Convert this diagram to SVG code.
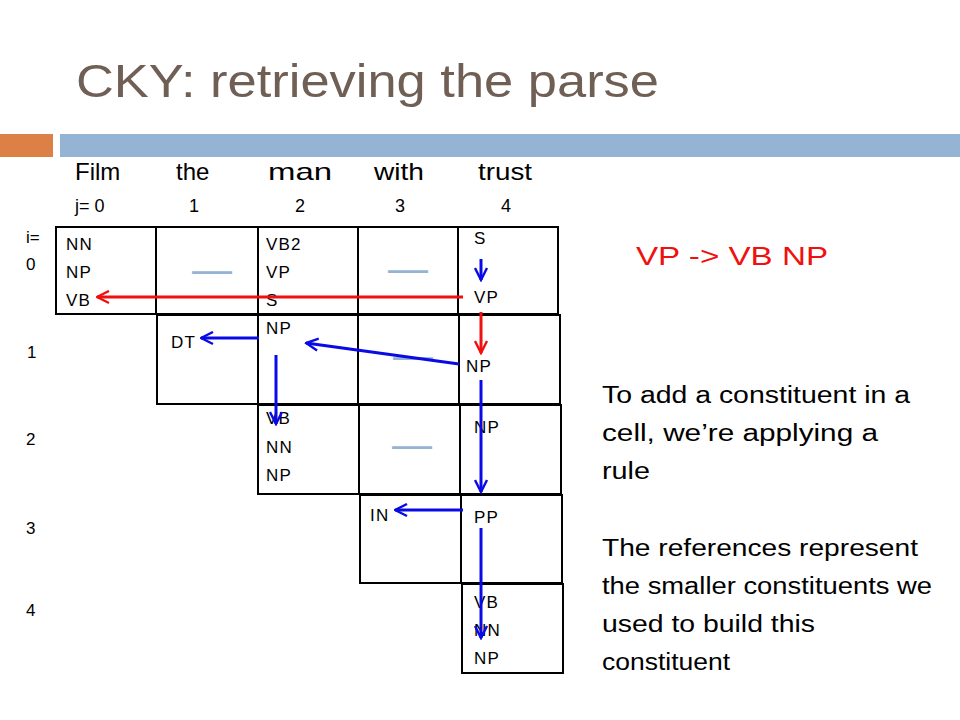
<svg xmlns="http://www.w3.org/2000/svg" width="960" height="720" viewBox="0 0 960 720">
<defs>
<style>
.cell{fill:#fff;stroke:#000;stroke-width:2}
.lbl{font-family:"Liberation Sans",Arial,sans-serif;font-size:17px;letter-spacing:1.2px;fill:#000}
.hdr{font-family:"Liberation Sans",Arial,sans-serif;font-size:24px;fill:#000}
.idx{font-family:"Liberation Sans",Arial,sans-serif;font-size:18px;fill:#000}
.row{font-family:"Liberation Sans",Arial,sans-serif;font-size:17px;fill:#000}
.dash{font-family:"Liberation Sans",Arial,sans-serif;font-size:40px;fill:#95b3d3}
.body{font-family:"Liberation Sans",Arial,sans-serif;font-size:23px;fill:#000}
.blue{stroke:#0a0ae6;stroke-width:3;fill:none;marker-end:url(#ab)}
.red{stroke:#f01010;stroke-width:3;fill:none;marker-end:url(#ar)}
</style>
<marker id="ab" viewBox="0 0 10 10" refX="9" refY="5" markerWidth="5" markerHeight="5" orient="auto" markerUnits="strokeWidth">
<path d="M1,1 L9,5 L1,9" fill="none" stroke="#0a0ae6" stroke-width="1.6"/>
</marker>
<marker id="ar" viewBox="0 0 10 10" refX="9" refY="5" markerWidth="5" markerHeight="5" orient="auto" markerUnits="strokeWidth">
<path d="M1,1 L9,5 L1,9" fill="none" stroke="#f01010" stroke-width="1.6"/>
</marker>
</defs>
<rect width="960" height="720" fill="#fff"/>
<g id="title">
<text x="76" y="97" font-family="'Liberation Sans',Arial,sans-serif" font-size="46" fill="#705f55" textLength="583" lengthAdjust="spacingAndGlyphs">CKY: retrieving the parse</text>
</g>
<g id="bars">
<rect x="0" y="134" width="53" height="23" fill="#dd8047"/>
<rect x="60" y="134" width="900" height="23" fill="#95b3d3"/>
</g>
<g id="header">
<text class="hdr" x="75" y="180">Film</text>
<text class="hdr" x="176" y="180">the</text>
<text class="hdr" x="268" y="180" textLength="64" lengthAdjust="spacingAndGlyphs">man</text>
<text class="hdr" x="374" y="180" textLength="50" lengthAdjust="spacingAndGlyphs">with</text>
<text class="hdr" x="478" y="180" textLength="54" lengthAdjust="spacingAndGlyphs">trust</text>
<text class="idx" x="75" y="212">j= 0</text>
<text class="idx" x="189" y="212">1</text>
<text class="idx" x="295" y="212">2</text>
<text class="idx" x="395" y="212">3</text>
<text class="idx" x="501" y="212">4</text>
</g>
<g id="rowlabels">
<text class="row" x="26" y="243">i=</text>
<text class="row" x="26" y="270">0</text>
<text class="row" x="27" y="358">1</text>
<text class="row" x="26" y="445">2</text>
<text class="row" x="26" y="534">3</text>
<text class="row" x="26" y="616">4</text>
</g>
<g id="cell-0-0"><rect class="cell" x="56" y="227" width="100" height="87"/>
<text class="lbl" x="66" y="250">NN</text><text class="lbl" x="66" y="278">NP</text><text class="lbl" x="66" y="306">VB</text></g>
<g id="cell-0-1"><rect class="cell" x="156" y="227" width="102" height="87"/>
<text class="dash" x="192" y="283">—</text></g>
<g id="cell-0-2"><rect class="cell" x="258" y="227" width="100" height="87"/>
<text class="lbl" x="266" y="250">VB2</text><text class="lbl" x="266" y="278">VP</text><text class="lbl" x="266" y="306">S</text></g>
<g id="cell-0-3"><rect class="cell" x="358" y="227" width="100" height="87"/>
<text class="dash" x="388" y="282">—</text></g>
<g id="cell-0-4"><rect class="cell" x="458" y="227" width="100" height="87"/>
<text class="lbl" x="474" y="244">S</text><text class="lbl" x="474" y="303">VP</text></g>
<g id="cell-1-1"><rect class="cell" x="157" y="315" width="101" height="89"/>
<text class="lbl" x="171" y="348">DT</text></g>
<g id="cell-1-2"><rect class="cell" x="258" y="315" width="100" height="89"/>
<text class="lbl" x="266" y="334">NP</text></g>
<g id="cell-1-3"><rect class="cell" x="358" y="315" width="101" height="89"/>
<text class="dash" x="393" y="369">—</text></g>
<g id="cell-1-4"><rect class="cell" x="459" y="315" width="101" height="89"/>
<text class="lbl" x="466" y="372">NP</text></g>
<g id="cell-2-2"><rect class="cell" x="258" y="405" width="101" height="89"/>
<text class="lbl" x="266" y="424">VB</text><text class="lbl" x="266" y="453">NN</text><text class="lbl" x="266" y="481">NP</text></g>
<g id="cell-2-3"><rect class="cell" x="359" y="405" width="101" height="89"/>
<text class="dash" x="392" y="458">—</text></g>
<g id="cell-2-4"><rect class="cell" x="460" y="405" width="101" height="89"/>
<text class="lbl" x="474" y="433">NP</text></g>
<g id="cell-3-3"><rect class="cell" x="360" y="495" width="101" height="88"/>
<text class="lbl" x="370" y="521">IN</text></g>
<g id="cell-3-4"><rect class="cell" x="461" y="495" width="101" height="88"/>
<text class="lbl" x="474" y="523">PP</text></g>
<g id="cell-4-4"><rect class="cell" x="462" y="584" width="101" height="89"/>
<text class="lbl" x="474" y="608">VB</text><text class="lbl" x="474" y="636">NN</text><text class="lbl" x="474" y="664">NP</text></g>
<g id="connectors">
<line class="red" x1="463" y1="297" x2="97" y2="297"/>
<line class="blue" x1="481" y1="259" x2="481" y2="280"/>
<line class="red" x1="481" y1="312" x2="481" y2="353"/>
<line class="blue" x1="459" y1="364" x2="306" y2="343"/>
<line class="blue" x1="259" y1="338" x2="201" y2="338"/>
<line class="blue" x1="276" y1="355" x2="276" y2="424"/>
<line class="blue" x1="481" y1="380" x2="481" y2="492"/>
<line class="blue" x1="463" y1="510" x2="395" y2="510"/>
<line class="blue" x1="481" y1="528" x2="481" y2="638"/>
</g>
<g id="rule">
<text x="636" y="265" font-family="'Liberation Sans',Arial,sans-serif" font-size="26" fill="#f01010" textLength="192" lengthAdjust="spacingAndGlyphs">VP -&gt; VB NP</text>
</g>
<g id="notes">
<text class="body" x="602" y="403" textLength="308" lengthAdjust="spacingAndGlyphs">To add a constituent in a</text>
<text class="body" x="602" y="441" textLength="276" lengthAdjust="spacingAndGlyphs">cell, we’re applying a</text>
<text class="body" x="602" y="479" textLength="48" lengthAdjust="spacingAndGlyphs">rule</text>
<text class="body" x="602" y="556" textLength="316" lengthAdjust="spacingAndGlyphs">The references represent</text>
<text class="body" x="602" y="594" textLength="330" lengthAdjust="spacingAndGlyphs">the smaller constituents we</text>
<text class="body" x="602" y="632" textLength="213" lengthAdjust="spacingAndGlyphs">used to build this</text>
<text class="body" x="602" y="670" textLength="128" lengthAdjust="spacingAndGlyphs">constituent</text>
</g>
</svg>
